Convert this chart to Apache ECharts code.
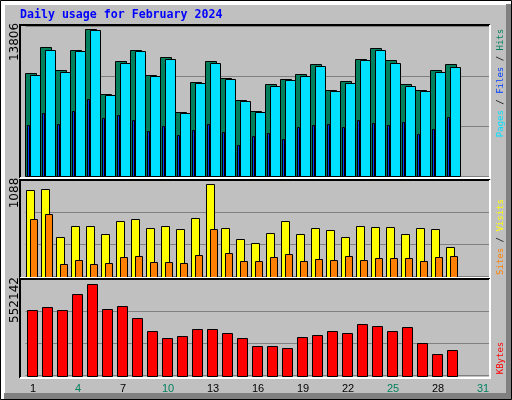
<!DOCTYPE html>
<html><head><meta charset="utf-8">
<script src="https://cdn.jsdelivr.net/npm/echarts@6/dist/echarts.min.js"></script>
<style>html,body{margin:0;padding:0;background:#c0c0c0}#c{width:512px;height:400px}</style>
</head><body><div id="c"></div>
<script>
var days = [];
for (var d = 1; d <= 31; d++) days.push(String(d));
var weekendDays = ['3','4','10','11','17','18','24','25','31'];
var title = 'Daily usage for February 2024';
var hits = [9664,12111,9946,11828,13806,7688,10793,11828,9476,11170,5994,8817,10793,9194,7123,6088,8629,9099,9570,10511,8064,8911,10981,12017,10887,8629,8064,9946,10511];
var files = [9476,11828,9758,11734,13710,7594,10605,11734,9382,10981,5900,8723,10605,9099,7029,5994,8441,9005,9382,10323,7970,8723,10887,11828,10605,8441,7970,9758,10229];
var pages = [4771,5900,4865,6088,7217,5430,5712,5241,4206,4677,3830,4300,4865,4112,2889,3736,4018,3453,4583,4771,4865,4583,5241,4959,4771,5053,3924,4394,5524];
var visits = [1017,1029,463,593,593,499,652,676,569,593,558,687,1088,569,440,393,511,652,499,569,546,463,593,581,581,499,569,558,345];
var sites = [676,735,145,192,145,157,228,239,169,169,157,251,558,275,180,180,228,263,180,204,192,239,192,216,216,216,180,228,239];
var kbytes = [394869,413010,394869,491621,552142,400916,419057,346493,267882,225553,237647,279976,279976,255788,225553,177177,177177,165083,231600,243694,267882,255788,310211,298117,267882,292070,195318,128801,152989];
var maxLabels = ['13806','1088','552142'];
var axisMax = [14117, 1132, 580500];

function pairs(arr){ return arr.map(function(v,i){ return [i, v]; }); }
function barItem(offset, width, color){
  return function(params, api){
    var p = api.coord([api.value(0), api.value(1)]);
    var b = api.coord([api.value(0), 0]);
    return {type:'rect', shape:{x:Math.round(p[0]+offset-width/2)+0.5, y:Math.round(p[1])+0.5, width:width, height:Math.round(b[1])-Math.round(p[1])},
      style:{fill:color, stroke:'#000', lineWidth:1}};
  };
}
function cs(name, arr, g, off, w, col){
  return {type:'custom', name:name, xAxisIndex:g, yAxisIndex:g, data:pairs(arr), encode:{x:0,y:1}, renderItem:barItem(off,w,col), clip:false};
}
var grids = [{left:25.5,width:465,top:26,height:150},{left:25.5,width:465,top:180.7,height:96},{left:25.5,width:465,top:279.7,height:96}];
var xAxes = grids.map(function(g,i){
  return {type:'category', gridIndex:i, data:days, axisLine:{show:false}, axisTick:{show:false},
    axisLabel:{show:i===2, margin:8, fontFamily:'Liberation Sans', fontSize:11,
      formatter:function(v){ return weekendDays.indexOf(v)>=0 ? '{g|'+v+'}' : '{k|'+v+'}'; },
      rich:{g:{color:'#00805c',fontFamily:'Liberation Sans',fontSize:11},k:{color:'#000',fontFamily:'Liberation Sans',fontSize:11}}}};
});
var yAxes = grids.map(function(g,i){
  return {type:'value', gridIndex:i, min:0, max:axisMax[i], interval:axisMax[i]/3, axisLabel:{show:false},
    axisLine:{show:false}, axisTick:{show:false}, splitLine:{lineStyle:{color:'#808080',width:1}}};
});
function frame(x1,y1,x2,y2){
  return [
    {type:'polyline', shape:{points:[[x1,y2],[x1,y1],[x2,y1]]}, style:{stroke:'#000',lineWidth:2,fill:null}, z:10},
    {type:'polyline', shape:{points:[[x2,y1],[x2,y2],[x1,y2]]}, style:{stroke:'#fff',lineWidth:2,fill:null}, z:10}
  ];
}
var graphics = [
  {type:'rect', shape:{x:0,y:0,width:512,height:400}, style:{fill:'#c0c0c0'}, z:-10},
  {type:'rect', shape:{x:1,y:1,width:510,height:4}, style:{fill:'#fff'}, z:-9},
  {type:'rect', shape:{x:1,y:1,width:4,height:398}, style:{fill:'#fff'}, z:-9},
  {type:'rect', shape:{x:506,y:4,width:5,height:395}, style:{fill:'#808080'}, z:-9},
  {type:'rect', shape:{x:4,y:393,width:507,height:6}, style:{fill:'#808080'}, z:-9},
  {type:'rect', shape:{x:0.5,y:0.5,width:511,height:399}, style:{fill:null,stroke:'#000',lineWidth:1}, z:-8},
  {type:'text', x:20, y:15, style:{text:title, fill:'#0000ff', font:'bold 11.6px "DejaVu Sans Mono"', verticalAlign:'middle'}},
  {type:'text', x:15, y:42, rotation:Math.PI/2, style:{text:maxLabels[0], fill:'#000', font:'12px "DejaVu Sans"', align:'center', verticalAlign:'middle'}},
  {type:'text', x:15, y:193, rotation:Math.PI/2, style:{text:maxLabels[1], fill:'#000', font:'12px "DejaVu Sans"', align:'center', verticalAlign:'middle'}},
  {type:'text', x:15, y:300, rotation:Math.PI/2, style:{text:maxLabels[2], fill:'#000', font:'12px "DejaVu Sans"', align:'center', verticalAlign:'middle'}},
  {type:'text', x:501, y:83, rotation:Math.PI/2, style:{text:'{p|Pages}{s| / }{f|Files}{s| / }{h|Hits}', align:'center', verticalAlign:'middle', font:'9px "DejaVu Sans Mono"',
    rich:{p:{fill:'#00e0ff',font:'9px "DejaVu Sans Mono"'},f:{fill:'#0040ff',font:'9px "DejaVu Sans Mono"'},h:{fill:'#00805c',font:'9px "DejaVu Sans Mono"'},s:{fill:'#000',font:'9px "DejaVu Sans Mono"'}}}},
  {type:'text', x:501, y:237, rotation:Math.PI/2, style:{text:'{a|Sites}{s| / }{b|Visits}', align:'center', verticalAlign:'middle', font:'9px "DejaVu Sans Mono"',
    rich:{a:{fill:'#ff8000',font:'9px "DejaVu Sans Mono"'},b:{fill:'#ffff00',font:'9px "DejaVu Sans Mono"'},s:{fill:'#000',font:'9px "DejaVu Sans Mono"'}}}},
  {type:'text', x:501, y:358, rotation:Math.PI/2, style:{text:'KBytes', fill:'#ff0000', align:'center', verticalAlign:'middle', font:'9px "DejaVu Sans Mono"'}}
].concat(frame(20,25,490,178)).concat(frame(20,180,490,278)).concat(frame(20,279,490,378));

var chart = echarts.init(document.getElementById('c'), null, {renderer:'canvas'});
chart.setOption({
  backgroundColor:'#c0c0c0', animation:false,
  grid:grids, xAxis:xAxes, yAxis:yAxes, graphic:graphics,
  series:[
    cs('Hits', hits, 0, -2.5, 11, '#00805c'),
    cs('Files', files, 0, 1.5, 10, '#00e0ff'),
    cs('Pages', pages, 0, -5, 2, '#0040ff'),
    cs('Visits', visits, 1, -3.5, 8, '#ffff00'),
    cs('Sites', sites, 1, 0, 7, '#ff8000'),
    cs('KBytes', kbytes, 2, -1.5, 10, '#ff0000')
  ]
});
</script></body></html>
